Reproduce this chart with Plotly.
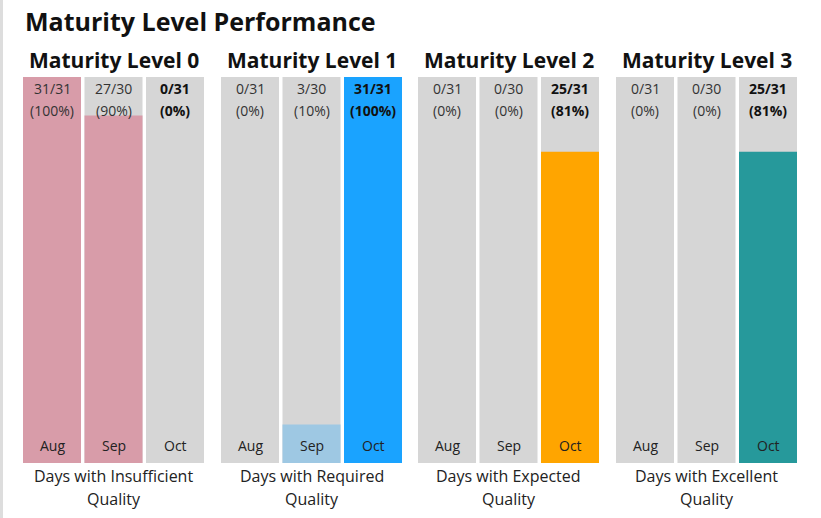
import plotly.graph_objects as go
from plotly.subplots import make_subplots

months = ["Aug", "Sep", "Oct"]
levels = ["Maturity Level 0", "Maturity Level 1", "Maturity Level 2", "Maturity Level 3"]
caption_line1 = ["Days with Insufficient", "Days with Required", "Days with Expected", "Days with Excellent"]
caption_line2 = ["Quality", "Quality", "Quality", "Quality"]

totals = [31, 30, 31]
days_ml0 = [31, 27, 0]
days_ml1 = [0, 3, 31]
days_ml2 = [0, 0, 25]
days_ml3 = [0, 0, 25]
all_days = [days_ml0, days_ml1, days_ml2, days_ml3]

past_colors = ["#d89ca9", "#9ec8e3", "#ffa500", "#26999b"]
current_colors = ["#d89ca9", "#1aa3ff", "#ffa500", "#26999b"]
grey = "#d6d6d6"
FONT = "Open Sans"

W, H = 821, 518
L, R, T, B = 21, 21, 77, 55
pw = W - L - R
panel_starts = [21.25, 219.25, 416.25, 614.25]
panel_w = 184.5

fig = make_subplots(rows=1, cols=4)

for i, days in enumerate(all_days):
    col = i + 1
    ratios = [d / t for d, t in zip(days, totals)]
    colors = [past_colors[i]] * (len(months) - 1) + [current_colors[i]]
    fig.add_trace(go.Bar(x=months, y=[1] * len(months), marker_color=grey,
                         marker_line_width=0, hoverinfo="skip", showlegend=False),
                  row=1, col=col)
    fig.add_trace(go.Bar(x=months, y=ratios, marker_color=colors,
                         marker_line_width=0, hoverinfo="skip", showlegend=False),
                  row=1, col=col)
    xa = "x" if i == 0 else f"x{col}"
    ya = "y" if i == 0 else f"y{col}"
    d0 = (panel_starts[i] - L) / pw
    d1 = d0 + panel_w / pw
    fig.update_xaxes(domain=[max(0, d0), min(1, d1)], row=1, col=col)
    for j, m in enumerate(months):
        pct = round(100 * days[j] / totals[j])
        cur = j == len(months) - 1
        t1 = f"{days[j]}/{totals[j]}"
        t2 = f"({pct}%)"
        if cur:
            t1, t2 = f"<b>{t1}</b>", f"<b>{t2}</b>"
        fc = "#111111" if cur else "#333333"
        for txt, ys in ((t1, -11), (t2, -33)):
            fig.add_annotation(x=m, y=1, xref=xa, yref=ya, text=txt, showarrow=False,
                               yanchor="middle", yshift=ys,
                               font=dict(family=FONT, size=14, color=fc))
        fig.add_annotation(x=m, y=0, xref=xa, yref=ya, text=m, showarrow=False,
                           yanchor="middle", yshift=18,
                           font=dict(family=FONT, size=14, color="#222222"))
    fig.add_annotation(x=0.5, y=1, xref=f"{xa} domain", yref=ya, text=f"<b>{levels[i]}</b>",
                       showarrow=False, yanchor="middle", yshift=17,
                       font=dict(family=FONT, size=21, color="#111111"))
    for txt, ys in ((caption_line1[i], -13), (caption_line2[i], -36)):
        fig.add_annotation(x=0.5, y=0, xref=f"{xa} domain", yref=ya, text=txt,
                           showarrow=False, yanchor="middle", yshift=ys,
                           font=dict(family=FONT, size=16, color="#222222"))

fig.update_xaxes(showticklabels=False, showgrid=False, zeroline=False, fixedrange=True)
fig.update_yaxes(range=[0, 1], showticklabels=False, showgrid=False, zeroline=False, fixedrange=True)

fig.add_shape(type="line", xref="paper", yref="paper",
              x0=(1.5 - L) / pw, x1=(1.5 - L) / pw, y0=-B / (H - T - B), y1=1 + T / (H - T - B),
              line=dict(color="#dddddd", width=3))

fig.update_layout(
    width=W, height=H,
    margin=dict(l=L, r=R, t=T, b=B),
    barmode="overlay", bargap=0.057,
    paper_bgcolor="white", plot_bgcolor="white",
    title=dict(text="<b>Maturity Level Performance</b>", x=25 / W, xanchor="left",
               y=1 - 22 / H, yanchor="middle", xref="container", yref="container",
               font=dict(family=FONT, size=25, color="#111111")),
    font=dict(family=FONT),
)

fig.write_html("out.html", config={"displayModeBar": False},
               post_script="document.body.style.margin='0px';document.body.style.overflow='hidden';")
